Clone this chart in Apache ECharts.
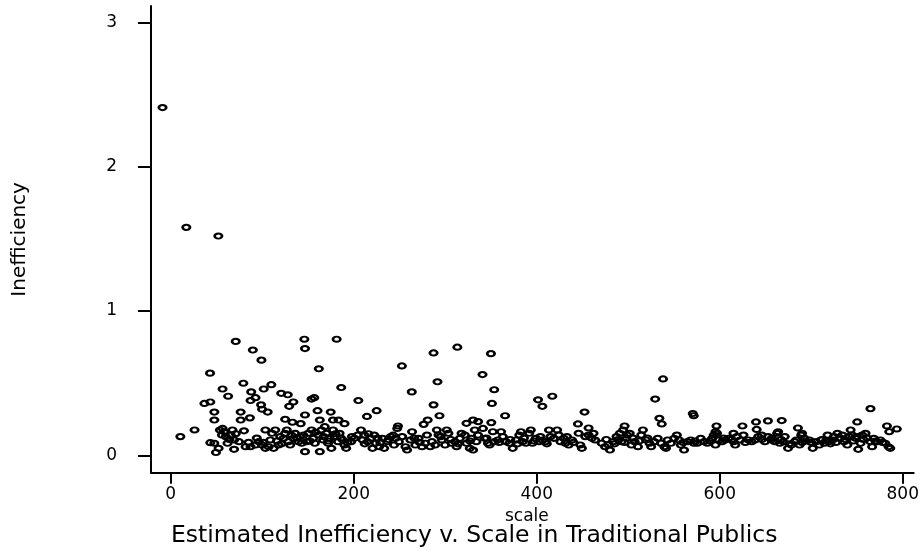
<!DOCTYPE html>
<html>
<head>
<meta charset="utf-8">
<script src="https://cdn.jsdelivr.net/npm/echarts@6/dist/echarts.min.js"></script>
<style>
  html, body { margin: 0; padding: 0; background: #fff; }
  #chart { width: 922px; height: 555px; }
</style>
</head>
<body>
<div id="chart"></div>
<script>
// Tick positions for both axes
const xTicks = [0, 200, 400, 600, 800];
const yTicks = [0, 1, 2, 3];

// [scale, inefficiency] pairs — the high outliers
const highPoints = [
  [-9, 2.41], [17, 1.58], [52, 1.52], [71, 0.79], [89.7, 0.73], [99.1, 0.66],
  [146, 0.805], [146.7, 0.74], [181.3, 0.805], [42.9, 0.57], [161.8, 0.6],
  [252.6, 0.62], [287.2, 0.71], [313.2, 0.75], [349.9, 0.705], [340.7, 0.56],
  [291.5, 0.51], [538, 0.53]
];

// Points between roughly 0.2 and 0.5
const midPoints = [
  [79.3, 0.5], [109.9, 0.49], [56.6, 0.46], [101.6, 0.46], [186.3, 0.47], [62.7, 0.41],
  [87.9, 0.44], [92.6, 0.4], [87.2, 0.38], [120.7, 0.43], [127.9, 0.42], [134, 0.37],
  [129.4, 0.34], [98.7, 0.35], [99.8, 0.32], [105.9, 0.3], [76.4, 0.3], [76.4, 0.245],
  [86.5, 0.26], [36.8, 0.36], [43.2, 0.37], [47.6, 0.3], [47.6, 0.245], [125, 0.25],
  [133, 0.23], [142, 0.22], [146.7, 0.28], [153.9, 0.39], [156.8, 0.4], [160.4, 0.31],
  [162.9, 0.245], [174.8, 0.3], [177.3, 0.245], [183.4, 0.245], [189.9, 0.22], [205, 0.38],
  [214.4, 0.27], [225, 0.31], [263.4, 0.44], [353.5, 0.455], [287.2, 0.35], [351, 0.36],
  [293.7, 0.275], [365.4, 0.275], [401.4, 0.385], [406.1, 0.34], [417, 0.41], [452.2, 0.3],
  [529.4, 0.39], [534, 0.257], [536.6, 0.218], [280.8, 0.245], [276.4, 0.215], [323.2, 0.222],
  [330.4, 0.245], [335.9, 0.234], [350.3, 0.227], [248.3, 0.204], [445, 0.218], [496, 0.204],
  [570.5, 0.29], [571.6, 0.275], [596.4, 0.204], [624.8, 0.204], [639.6, 0.232], [652.6, 0.239],
  [667.7, 0.241], [764.7, 0.324], [750.2, 0.232], [782.7, 0.204]
];

// Dense low band, western part (scale below 250)
const bandWest = [
  [10.5, 0.13], [26, 0.176], [43.2, 0.088], [47.6, 0.084], [49.4, 0.02], [52.3, 0.049],
  [53.7, 0.176], [56.6, 0.187], [58.4, 0.164], [55.9, 0.141], [60.2, 0.13], [62, 0.084],
  [65.6, 0.141], [67.4, 0.176], [69.2, 0.107], [69.2, 0.042], [74.6, 0.095], [80, 0.17],
  [81.8, 0.06], [87.2, 0.06], [92.6, 0.072], [96.2, 0.095], [99.8, 0.072], [103.4, 0.176],
  [103.4, 0.049], [107, 0.06], [108.8, 0.107], [110.6, 0.153], [114.2, 0.176], [112.4, 0.049],
  [117.8, 0.072], [119.6, 0.13], [123.2, 0.118], [125, 0.153], [126.8, 0.176], [128.6, 0.095],
  [130.5, 0.072], [134, 0.118], [135.9, 0.153], [139.5, 0.095], [141.3, 0.13], [143.1, 0.084],
  [146.7, 0.026], [148.5, 0.095], [150.3, 0.153], [153.9, 0.176], [155.7, 0.118], [157.5, 0.084],
  [161.1, 0.141], [162.9, 0.026], [164.7, 0.176], [166.5, 0.107], [168.3, 0.199], [170.1, 0.153],
  [171.9, 0.084], [173.7, 0.118], [175.5, 0.049], [177.3, 0.176], [179.1, 0.13], [182.7, 0.095],
  [184.5, 0.153], [188.1, 0.107], [189.9, 0.072], [191.7, 0.049], [197.1, 0.095], [200.7, 0.118],
  [204.3, 0.141], [207.9, 0.176], [209.7, 0.107], [211.5, 0.141], [215.1, 0.095], [218.7, 0.118],
  [220.5, 0.049], [222.3, 0.141], [224.1, 0.084], [227.7, 0.06], [231.4, 0.118], [233.2, 0.049],
  [236.8, 0.095], [240.4, 0.13], [244, 0.072], [245.8, 0.118],
  [64, 0.11], [71, 0.15], [85, 0.09], [94, 0.12], [101, 0.09], [116, 0.1], [121, 0.08],
  [132, 0.14], [138, 0.12], [145, 0.14], [152, 0.1], [158, 0.16], [167, 0.13], [172, 0.1],
  [180, 0.15], [186, 0.12], [193, 0.09], [198, 0.13], [212, 0.08], [216, 0.15], [226, 0.12],
  [229, 0.09], [238, 0.11], [243, 0.14]
];

// Dense low band, central part (scale 250 to 528)
const bandCentral = [
  [247.5, 0.187], [249.3, 0.095], [252.9, 0.13], [256.5, 0.06], [258.3, 0.037], [261.9, 0.107],
  [263.7, 0.164], [267.3, 0.072], [270.9, 0.118], [274.6, 0.06], [278.2, 0.084], [280, 0.141],
  [283.6, 0.06], [285.4, 0.095], [289, 0.072], [290.8, 0.176], [292.6, 0.141], [296.2, 0.107],
  [299.8, 0.072], [301.6, 0.176], [303.4, 0.153], [307, 0.084], [310.6, 0.095], [312.4, 0.06],
  [316, 0.118], [317.8, 0.153], [321.4, 0.141], [323.2, 0.084], [326.8, 0.049], [328.6, 0.118],
  [330.4, 0.037], [332.2, 0.176], [334, 0.095], [335.8, 0.141], [341.2, 0.187], [343, 0.118],
  [346.6, 0.084], [348.4, 0.072], [352, 0.164], [353.8, 0.095], [357.4, 0.107], [361, 0.164],
  [362.9, 0.13], [366.5, 0.095], [370.1, 0.084], [373.7, 0.049], [377.3, 0.107], [380.9, 0.141],
  [382.7, 0.164], [384.5, 0.095], [388.1, 0.084], [391.7, 0.153], [393.5, 0.176], [395.3, 0.084],
  [398.9, 0.118], [402.5, 0.095], [406.1, 0.107], [409.7, 0.095], [413.3, 0.176], [415.1, 0.13],
  [418.7, 0.118], [422.3, 0.176], [424.1, 0.141], [425.9, 0.095], [429.5, 0.118], [431.3, 0.084],
  [434.9, 0.072], [438.5, 0.107], [445.7, 0.153], [447.6, 0.072], [449.3, 0.049], [453, 0.13],
  [456.6, 0.141], [456.6, 0.19], [460.2, 0.118], [462, 0.153], [463.8, 0.107], [471, 0.084],
  [474.6, 0.06], [478.2, 0.072], [480, 0.037], [483.6, 0.095], [487.2, 0.13], [490.8, 0.153],
  [492.6, 0.095], [494.4, 0.176], [498, 0.118], [501.6, 0.153], [503.4, 0.072], [507, 0.095],
  [510.6, 0.06], [514.2, 0.141], [516, 0.176], [519.6, 0.107], [523.2, 0.084], [525, 0.06],
  [266, 0.12], [272, 0.09], [295, 0.13], [306, 0.11], [314, 0.08], [327, 0.1], [345, 0.12],
  [359, 0.09], [371, 0.11], [379, 0.08], [386, 0.12], [397, 0.1], [404, 0.13], [411, 0.08],
  [433, 0.13], [440, 0.09], [476, 0.11], [485, 0.08], [489, 0.11], [496, 0.09], [499, 0.14],
  [505, 0.12], [512, 0.1], [521, 0.12]
];

// Dense low band, eastern part (scale 528 and above)
const bandEast = [
  [528.6, 0.095], [532.2, 0.118], [535.8, 0.084], [539.4, 0.06], [541.2, 0.049], [543, 0.107],
  [546.6, 0.084], [550.2, 0.118], [553.1, 0.141], [555.6, 0.107], [557.4, 0.072], [561, 0.037],
  [564.6, 0.095], [568.2, 0.107], [571.8, 0.084], [575.5, 0.084], [579.1, 0.118], [582.7, 0.095],
  [586.3, 0.084], [591.7, 0.118], [593.5, 0.141], [595.3, 0.072], [598.9, 0.107], [602.5, 0.095],
  [606.1, 0.107], [609.7, 0.118], [615, 0.153], [615.1, 0.095], [616.9, 0.072], [618.7, 0.13],
  [622.3, 0.107], [625.9, 0.141], [631.3, 0.107], [634.9, 0.095], [638.5, 0.107], [640.3, 0.18],
  [642.1, 0.13], [645.7, 0.141], [649.3, 0.095], [652.9, 0.13], [656.5, 0.107], [660.1, 0.095],
  [662.7, 0.153], [663.8, 0.164], [665.6, 0.084], [669.2, 0.095], [674.6, 0.049], [678.2, 0.072],
  [681.8, 0.095], [683.6, 0.107], [685.4, 0.19], [687.2, 0.072], [689, 0.141], [692.6, 0.118],
  [698, 0.107], [701.6, 0.049], [705.2, 0.095], [708.8, 0.072], [710.6, 0.107], [714.2, 0.084],
  [717.8, 0.141], [719.6, 0.095], [723.2, 0.107], [725, 0.13], [728.6, 0.153], [730.4, 0.118],
  [734, 0.141], [735.8, 0.095], [739.4, 0.072], [741.2, 0.13], [743, 0.176], [744.8, 0.141],
  [748.4, 0.118], [751.3, 0.042], [753.9, 0.084], [755.7, 0.141], [759.3, 0.153], [764.7, 0.095],
  [766.5, 0.06], [768.3, 0.118], [771.9, 0.095], [775.5, 0.107], [780.9, 0.084], [784.5, 0.06],
  [786.3, 0.049], [785.2, 0.164], [793.5, 0.183], [595.3, 0.164], [597, 0.153], [690, 0.153],
  [560, 0.09], [573, 0.1], [589, 0.1], [604, 0.12], [613, 0.11], [628, 0.09], [646, 0.11],
  [657, 0.12], [667, 0.11], [671, 0.13], [676, 0.08], [690, 0.09], [694, 0.1], [700, 0.09],
  [712, 0.11], [716, 0.1], [721, 0.08], [727, 0.09], [732, 0.12], [737, 0.11], [746, 0.1],
  [750, 0.13], [757, 0.11], [761, 0.12], [770, 0.1], [778, 0.09]
];

const points = [].concat(highPoints, midPoints, bandWest, bandCentral, bandEast);

const FONT = '"DejaVu Sans", "Liberation Sans", sans-serif';
const INK = '#000';

const chart = echarts.init(document.getElementById('chart'), null, { renderer: 'canvas' });

chart.setOption({
  animation: false,
  backgroundColor: '#fff',
  title: {
    text: 'Estimated Inefficiency v. Scale in Traditional Publics',
    left: 171,
    top: 524,
    padding: 0,
    textStyle: { fontFamily: FONT, fontSize: 23.5, fontWeight: 'normal', color: INK }
  },
  grid: { left: 151, right: 0, top: 6, bottom: 82.3, containLabel: false },
  xAxis: {
    type: 'value',
    min: -21.6,
    max: 811.9,
    name: 'scale',
    nameLocation: 'middle',
    nameGap: 32,
    nameTextStyle: { fontFamily: FONT, fontSize: 17, color: INK, padding: [0, 11, 0, 0] },
    axisLine: { show: true, onZero: false, lineStyle: { color: INK, width: 2 } },
    axisTick: { show: true, length: 11, customValues: xTicks, lineStyle: { color: INK, width: 2 } },
    axisLabel: { customValues: xTicks, margin: 13, fontFamily: FONT, fontSize: 17, color: INK },
    splitLine: { show: false }
  },
  yAxis: {
    type: 'value',
    min: -0.12,
    max: 3.114,
    name: 'Inefficiency',
    nameLocation: 'middle',
    nameRotate: 90,
    nameGap: 121,
    nameTextStyle: { fontFamily: FONT, fontSize: 20, color: INK },
    axisLine: { show: true, onZero: false, lineStyle: { color: INK, width: 2 } },
    axisTick: { show: true, length: 13, customValues: yTicks, lineStyle: { color: INK, width: 2 } },
    axisLabel: { customValues: yTicks, margin: 34, fontFamily: FONT, fontSize: 17, color: INK },
    splitLine: { show: false }
  },
  series: [{
    type: 'scatter',
    data: points,
    symbol: 'circle',
    symbolSize: [7.4, 5.2],
    silent: true,
    itemStyle: { color: 'rgba(0,0,0,0)', borderColor: INK, borderWidth: 2.3, opacity: 1 }
  }]
});
</script>
</body>
</html>
